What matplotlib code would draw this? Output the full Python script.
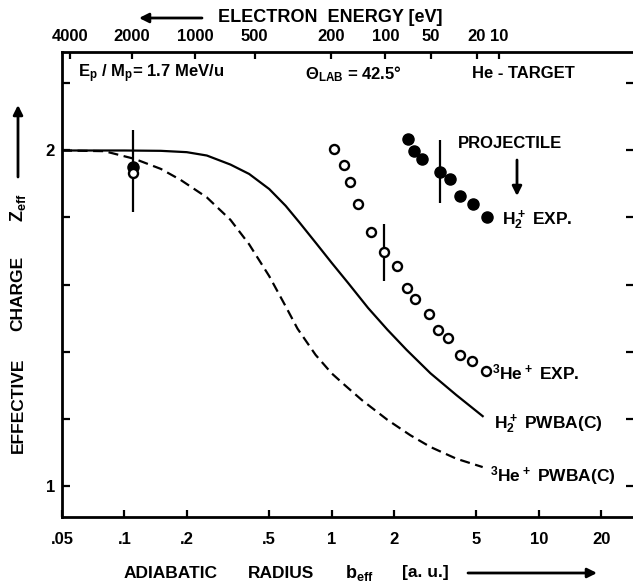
import matplotlib.pyplot as plt

plt.rcParams['font.family'] = ['Liberation Sans', 'DejaVu Sans']
plt.rcParams['font.weight'] = 'bold'
plt.rcParams['mathtext.default'] = 'regular'

# theory curves (b_eff in a.u., Z_eff)
b_h2_pwba = [0.05, 0.1, 0.15, 0.2, 0.25, 0.325, 0.4, 0.5, 0.6, 0.7, 0.85, 1.0,
             1.2, 1.5, 1.86, 2.3, 3.0, 4.0, 5.36]
z_h2_pwba = [2.0, 2.0, 1.999, 1.995, 1.985, 1.958, 1.93, 1.885, 1.835, 1.785, 1.72,
             1.665, 1.605, 1.53, 1.465, 1.405, 1.335, 1.27, 1.207]
b_he_pwba = [0.05, 0.08, 0.112, 0.15, 0.187, 0.25, 0.325, 0.4, 0.5, 0.6, 0.685,
             0.837, 1.0, 1.156, 1.4, 1.86, 2.4, 3.0, 4.0, 5.36]
z_he_pwba = [2.0, 1.998, 1.975, 1.945, 1.912, 1.86, 1.793, 1.72, 1.625, 1.535, 1.468,
             1.39, 1.335, 1.30, 1.255, 1.196, 1.15, 1.115, 1.08, 1.055]

# measured points
b_h2_exp = [0.1105, 2.347, 2.509, 2.731, 3.351, 3.729, 4.184, 4.800, 5.610]
z_h2_exp = [1.952, 2.034, 1.999, 1.975, 1.935, 1.915, 1.864, 1.840, 1.801]
b_he_exp = [0.1105, 1.03, 1.152, 1.226, 1.346, 1.549, 1.797, 2.061, 2.31, 2.54,
            2.942, 3.278, 3.663, 4.153, 4.746, 5.565]
z_he_exp = [1.934, 2.004, 1.957, 1.907, 1.840, 1.758, 1.696, 1.656, 1.589, 1.557,
            1.511, 1.464, 1.441, 1.390, 1.373, 1.343]

# error bars
b_err = [0.1105, 3.351, 1.797]
z_err = [1.939, 1.937, 1.695]
dz_err = [0.122, 0.094, 0.085]

# axis ticks
x_ticks = [0.05, 0.1, 0.2, 0.5, 1, 2, 5, 10, 20]
x_labels = ['.05', '.1', '.2', '.5', '1', '2', '5', '10', '20']
y_ticks = [1.0, 1.2, 1.4, 1.6, 1.8, 2.0, 2.2]
y_labels = ['1', '', '', '', '', '2', '']
e_ticks_b = [0.0548, 0.109, 0.220, 0.425, 0.99, 1.82, 3.01, 5.02, 6.41]
e_labels = ['4000', '2000', '1000', '500', '200', '100', '50', '20', '10']

W, H = 633, 588


def fp(x, y):
    return x / W, 1 - y / H


fig = plt.figure(figsize=(W / 100, H / 100), dpi=100)
ax = fig.add_axes([62 / W, 1 - 517 / H, (634 - 62) / W, (517 - 52) / H])

ax.plot(b_h2_pwba, z_h2_pwba, color='k', lw=1.6)
ax.plot(b_he_pwba, z_he_pwba, color='k', lw=1.6, dashes=(4.5, 2.5))
ax.errorbar(b_err, z_err, yerr=dz_err, fmt='none', ecolor='k', elinewidth=1.6, capsize=0)
ax.plot(b_h2_exp, z_h2_exp, 'o', color='k', ms=8, ls='none')
ax.plot(b_he_exp, z_he_exp, 'o', mfc='white', mec='k', mew=1.7, ms=6.5, ls='none')

ax.set_xscale('log')
ax.set_xlim(0.05, 28.8)
ax.set_ylim(0.906, 2.294)
ax.set_xticks(x_ticks)
ax.set_xticklabels(x_labels)
ax.set_yticks(y_ticks)
ax.set_yticklabels(y_labels)
ax.minorticks_off()
ax.spines['right'].set_visible(False)
for s in ['left', 'bottom', 'top']:
    ax.spines[s].set_linewidth(2)
ax.tick_params(axis='x', direction='in', length=5, width=1.6, pad=11, labelsize=12)
ax.tick_params(axis='y', direction='in', length=6, width=1.6, pad=5, labelsize=12,
               right=True)

ax2 = ax.twiny()
ax2.set_xscale('log')
ax2.set_xlim(ax.get_xlim())
ax2.set_xticks(e_ticks_b)
ax2.set_xticklabels(e_labels)
ax2.minorticks_off()
for s in ax2.spines.values():
    s.set_visible(False)
ax2.tick_params(axis='x', direction='in', length=5, width=1.6, pad=6, labelsize=12)

# titles and labels
fig.text(*fp(330, 18), 'ELECTRON  ENERGY [eV]', fontsize=13, ha='center', va='center')
fig.text(*fp(78, 74), 'E$_p$ / M$_p$= 1.7 MeV/u', fontsize=12, ha='left', va='center')
fig.text(*fp(305, 74), 'Θ$_{LAB}$ = 42.5°', fontsize=12, ha='left', va='center')
fig.text(*fp(472, 74), 'He - TARGET', fontsize=12, ha='left', va='center')
fig.text(*fp(458, 143), 'PROJECTILE', fontsize=12, ha='left', va='center')
fig.text(*fp(502, 220), '$H_2^+$ EXP.', fontsize=12.5, ha='left', va='center')
fig.text(*fp(492, 372), '$^3He^+$ EXP.', fontsize=12.5, ha='left', va='center')
fig.text(*fp(494, 424), '$H_2^+$ PWBA(C)', fontsize=12.5, ha='left', va='center')
fig.text(*fp(490, 476), '$^3He^+$ PWBA(C)', fontsize=12.5, ha='left', va='center')

fig.text(*fp(18, 405), 'EFFECTIVE', fontsize=12.5, rotation=90, ha='center', va='center')
fig.text(*fp(18, 293), 'CHARGE', fontsize=12.5, rotation=90, ha='center', va='center')
fig.text(*fp(18, 208), 'Z$_{eff}$', fontsize=13, rotation=90, ha='center', va='center')

fig.text(*fp(171, 573), 'ADIABATIC', fontsize=12.5, ha='center', va='center')
fig.text(*fp(281, 573), 'RADIUS', fontsize=12.5, ha='center', va='center')
fig.text(*fp(345, 573), 'b$_{eff}$', fontsize=13, ha='left', va='center')
fig.text(*fp(402, 573), '[a. u.]', fontsize=12.5, ha='left', va='center')

arrow = dict(arrowstyle='-|>', lw=2, color='k', mutation_scale=14, shrinkA=0, shrinkB=0)
fig.add_artist(plt.Annotation('', xy=fp(139, 18), xytext=fp(202, 18),
                              xycoords='figure fraction', arrowprops=arrow))
fig.add_artist(plt.Annotation('', xy=fp(18, 105), xytext=fp(18, 177),
                              xycoords='figure fraction', arrowprops=arrow))
fig.add_artist(plt.Annotation('', xy=fp(597, 573), xytext=fp(468, 573),
                              xycoords='figure fraction', arrowprops=arrow))
fig.add_artist(plt.Annotation('', xy=fp(517, 196), xytext=fp(517, 160),
                              xycoords='figure fraction', arrowprops=arrow))

fig.savefig('out.png', dpi=100)
